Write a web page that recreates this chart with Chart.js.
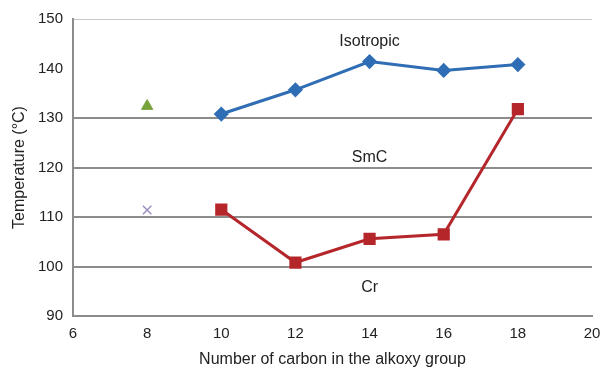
<!DOCTYPE html>
<html>
<head>
<meta charset="utf-8">
<script src="https://cdn.jsdelivr.net/npm/chart.js@4/dist/chart.umd.min.js"></script>
<style>
  html, body { margin: 0; padding: 0; background: #fff; }
  #wrap { width: 603px; height: 369px; }
</style>
</head>
<body>
<div id="wrap"><canvas id="chart"></canvas></div>
<script>
"use strict";

// carbon numbers of the alkoxy chain
var carbons = [10, 12, 14, 16, 18];
// clearing point (SmC -> isotropic)
var isoTemps = [130.8, 135.7, 141.4, 139.6, 140.8];
// melting point (Cr -> SmC)
var crTemps = [111.5, 100.8, 105.6, 106.5, 131.8];
// the C8 compound, plotted alone
var c8Carbon = [8];
var c8Iso = [132.4];
var c8Cr = [111.4];

var yTicks = [90, 100, 110, 120, 130, 140, 150];
var xTicks = [6, 8, 10, 12, 14, 16, 18, 20];

// phase labels: [text, x, y]
var phaseLabels = [
    ['Isotropic', 14, 145.4],
    ['SmC', 14, 122.1],
    ['Cr', 14, 95.7]
];

function toPoints(xs, ys) {
    return xs.map(function (x, i) { return {x: x, y: ys[i]}; });
}

var labelPlugin = {
    id: 'phaseLabels',
    afterDatasetsDraw: function (chart) {
        var ctx = chart.ctx;
        var xs = chart.scales.x, ys = chart.scales.y;
        ctx.save();
        ctx.font = '16px "Liberation Sans", Arial, sans-serif';
        ctx.fillStyle = '#222';
        ctx.textAlign = 'center';
        ctx.textBaseline = 'middle';
        phaseLabels.forEach(function (l) {
            ctx.fillText(l[0], xs.getPixelForValue(l[1]), ys.getPixelForValue(l[2]));
        });
        ctx.restore();
    }
};

var tickFont = {family: '"Liberation Sans", Arial, sans-serif', size: 15};
var titleFont = {family: '"Liberation Sans", Arial, sans-serif', size: 16};

new Chart(document.getElementById('chart'), {
    type: 'scatter',
    data: {
        datasets: [{
            label: 'Isotropic',
            data: toPoints(carbons, isoTemps),
            showLine: true,
            borderColor: '#2f6db5',
            backgroundColor: '#2f6db5',
            borderWidth: 3,
            pointStyle: 'rectRot',
            pointRadius: 5.5
        }, {
            label: 'Cr',
            data: toPoints(carbons, crTemps),
            showLine: true,
            borderColor: '#b5262b',
            backgroundColor: '#b5262b',
            borderWidth: 3,
            pointStyle: 'rect',
            pointRadius: 6.5
        }, {
            label: 'C8 iso',
            data: toPoints(c8Carbon, c8Iso),
            backgroundColor: '#78a23b',
            borderColor: '#78a23b',
            pointStyle: 'triangle',
            pointRadius: 6.5
        }, {
            label: 'C8 cr',
            data: toPoints(c8Carbon, c8Cr),
            backgroundColor: '#9d8cc4',
            borderColor: '#9d8cc4',
            borderWidth: 1.5,
            pointStyle: 'crossRot',
            pointRadius: 6
        }]
    },
    options: {
        responsive: true,
        maintainAspectRatio: false,
        animation: false,
        layout: {padding: {top: 12, right: 11, left: 0, bottom: 0}},
        plugins: {
            legend: {display: false},
            tooltip: {enabled: false}
        },
        scales: {
            x: {
                type: 'linear',
                min: 6,
                max: 20,
                afterBuildTicks: function (axis) {
                    axis.ticks = xTicks.map(function (v) { return {value: v}; });
                },
                grid: {display: false, drawTicks: false},
                border: {display: true, color: '#8c8c8c', width: 2},
                ticks: {font: tickFont, color: '#222', padding: 9, maxRotation: 0},
                title: {
                    display: true,
                    text: 'Number of carbon in the alkoxy group',
                    font: titleFont,
                    color: '#222',
                    padding: {top: 8, bottom: 0}
                },
                afterFit: function (axis) {
                    axis.height = 53;
                    axis.paddingLeft = 0;
                    axis.paddingRight = 0;
                }
            },
            y: {
                min: 90,
                max: 150,
                afterBuildTicks: function (axis) {
                    axis.ticks = yTicks.map(function (v) { return {value: v}; });
                },
                grid: {
                    drawTicks: false,
                    lineWidth: function (c) { return c.tick && c.tick.value === 150 ? 1 : 2; },
                    color: function (c) {
                        if (!c.tick) return '#8c8c8c';
                        if (c.tick.value === 140) return 'rgba(0,0,0,0)';
                        if (c.tick.value === 150) return '#c8c8c8';
                        return '#8c8c8c';
                    }
                },
                border: {display: true, color: '#8c8c8c', width: 2},
                ticks: {font: tickFont, color: '#222', padding: 10},
                title: {
                    display: true,
                    text: 'Temperature (°C)',
                    font: titleFont,
                    color: '#222',
                    padding: {top: 10, bottom: 0}
                },
                afterFit: function (axis) { axis.width = 73; }
            }
        }
    },
    plugins: [labelPlugin]
});
</script>
</body>
</html>
